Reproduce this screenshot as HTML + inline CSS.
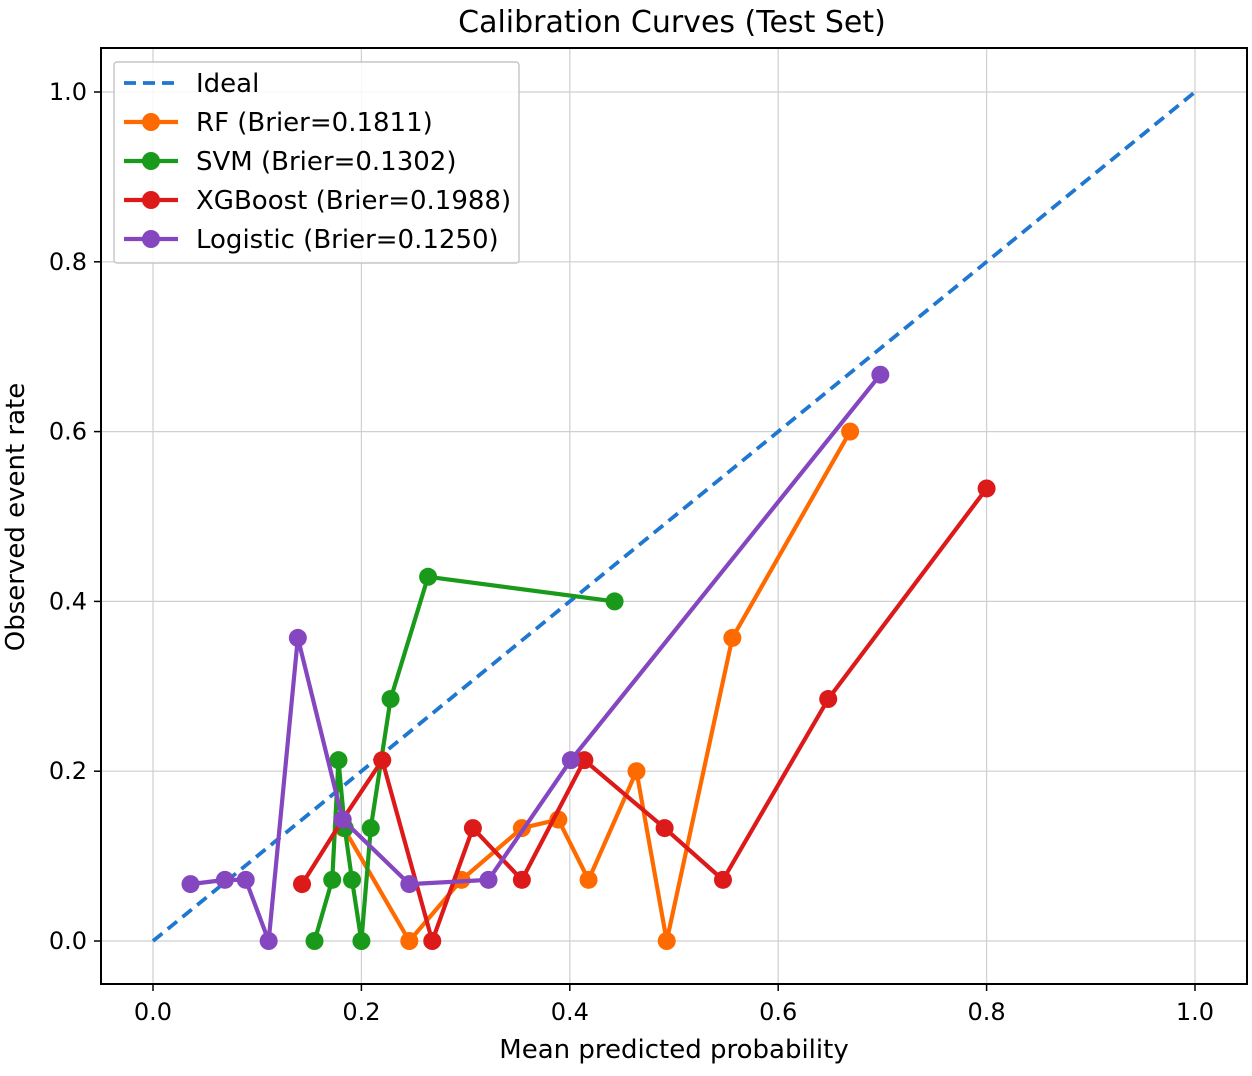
<!DOCTYPE html>
<html><head><meta charset="utf-8"><style>
body{margin:0;background:#fff;}
svg text{font-family:"DejaVu Sans","Liberation Sans",sans-serif;fill:#000;}
</style></head><body>
<svg id="chart" width="1252" height="1071" viewBox="0 0 1252 1071" xmlns="http://www.w3.org/2000/svg">
<rect width="1252" height="1071" fill="#fff"/>
<g id="grid"></g>
<g id="series"></g>
<rect x="101" y="48" width="1146" height="936" fill="none" stroke="#000" stroke-width="2"/>
<g id="ticks"></g>
<text x="672" y="32" font-size="30" text-anchor="middle">Calibration Curves (Test Set)</text>
<text x="674" y="1058" font-size="26" text-anchor="middle">Mean predicted probability</text>
<text transform="translate(24,517) rotate(-90)" font-size="26" text-anchor="middle">Observed event rate</text>
<g id="legend"></g>
</svg>
<script>
const tickVals=[0,0.2,0.4,0.6,0.8,1.0];
const tickLabels=["0.0","0.2","0.4","0.6","0.8","1.0"];
const seriesNames=["RF (Brier=0.1811)","SVM (Brier=0.1302)","XGBoost (Brier=0.1988)","Logistic (Brier=0.1250)"];
const seriesColors=["#ff6a00","#1a9a1a","#dd1a1a","#8547c0"];
const rfX=[0.183,0.246,0.296,0.354,0.389,0.418,0.464,0.493,0.556,0.669];
const rfY=[0.133,0,0.072,0.133,0.143,0.072,0.2,0,0.357,0.6];
const svmX=[0.155,0.172,0.178,0.184,0.191,0.2,0.209,0.228,0.264,0.443];
const svmY=[0,0.072,0.213,0.133,0.072,0,0.133,0.285,0.429,0.4];
const xgbX=[0.143,0.182,0.220,0.268,0.307,0.354,0.414,0.491,0.547,0.648,0.800];
const xgbY=[0.067,0.143,0.213,0,0.133,0.072,0.213,0.133,0.072,0.285,0.533];
const logX=[0.036,0.069,0.089,0.111,0.139,0.182,0.246,0.322,0.401,0.698];
const logY=[0.067,0.072,0.072,0,0.357,0.143,0.067,0.072,0.213,0.667];
const NS="http://www.w3.org/2000/svg";
const sx=v=>153+v*1042, sy=v=>941-v*849;
function mk(tag,attrs,parent){const e=document.createElementNS(NS,tag);for(const k in attrs)e.setAttribute(k,attrs[k]);parent.appendChild(e);return e;}
const grid=document.getElementById('grid'),ticks=document.getElementById('ticks');
tickVals.forEach((v,i)=>{
  let g=mk('line',{x1:sx(v),x2:sx(v),y1:48,y2:984,stroke:'#cfcfcf','stroke-width':1.2},grid);
  
  
  g=mk('line',{x1:101,x2:1247,y1:sy(v),y2:sy(v),stroke:'#cfcfcf','stroke-width':1.2},grid);
  
  
  mk('line',{x1:sx(v),x2:sx(v),y1:984,y2:991,stroke:'#000','stroke-width':1.5},ticks);
  mk('line',{x1:94,x2:101,y1:sy(v),y2:sy(v),stroke:'#000','stroke-width':1.5},ticks);
  let t=mk('text',{x:sx(v),y:1020,'font-size':24,'text-anchor':'middle'},ticks);t.textContent=tickLabels[i];
  
  
  t=mk('text',{x:87,y:sy(v)+8,'font-size':24,'text-anchor':'end'},ticks);t.textContent=tickLabels[i];
  
  
});
const ser=document.getElementById('series');
const ideal=mk('line',{x1:sx(0),y1:sy(0),x2:sx(1),y2:sy(1),stroke:'#1f77d0','stroke-width':3.8,'stroke-dasharray':'12,7'},ser);


[[rfX,rfY],[svmX,svmY],[xgbX,xgbY],[logX,logY]].forEach((d,i)=>{
  const g=mk('g',{},ser);
  
  
  const pts=d[0].map((x,j)=>sx(x)+','+sy(d[1][j])).join(' ');
  mk('polyline',{points:pts,fill:'none',stroke:seriesColors[i],'stroke-width':4.2,'stroke-linejoin':'round'},g);
  d[0].forEach((x,j)=>{
    const c=mk('circle',{cx:sx(x),cy:sy(d[1][j]),r:9,fill:seriesColors[i]},g);
    
    
  });
});
const lg=document.getElementById('legend');
const box=mk('rect',{x:114,y:62,width:405,height:201,fill:'#fff','fill-opacity':0.85,stroke:'#bbb','stroke-width':1.2,rx:3},lg);


const names=["Ideal"].concat(seriesNames), cols=["#1f77d0"].concat(seriesColors);
names.forEach((n,i)=>{
  const y=83+i*39;
  const g=mk('g',{},lg);
  
  
  if(i==0)mk('line',{x1:124,x2:178,y1:y,y2:y,stroke:cols[i],'stroke-width':3.8,'stroke-dasharray':'12,7'},g);
  else{mk('line',{x1:124,x2:178,y1:y,y2:y,stroke:cols[i],'stroke-width':4.2},g);mk('circle',{cx:151,cy:y,r:9,fill:cols[i]},g);}
  const t=mk('text',{x:196,y:y+9,'font-size':26},g);t.textContent=n;
});
</script>
</body></html>
